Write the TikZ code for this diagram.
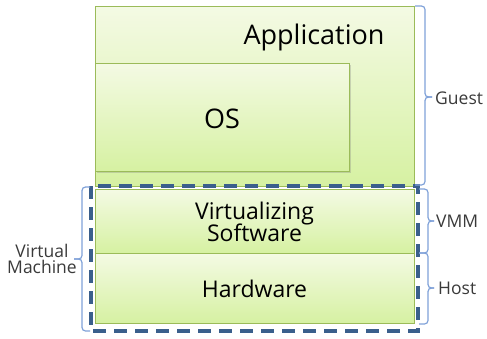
\documentclass[tikz,border=0pt]{standalone}
\usepackage{fontspec}
\setmainfont{Open Sans}
\usetikzlibrary{shadows}
\definecolor{boxedge}{HTML}{9BBB59}
\definecolor{gtop}{HTML}{F4FAE4}
\definecolor{gbot}{HTML}{D6F1A2}
\definecolor{dashblue}{HTML}{3A5F8C}
\definecolor{bracecol}{HTML}{7FA1D8}
\definecolor{labcol}{HTML}{3A3A3A}
\tikzset{
  layer/.style={draw=boxedge, line width=1pt, top color=gtop, bottom color=gbot, inner sep=0pt},
  osbox/.style={layer, drop shadow={shadow xshift=1.5pt, shadow yshift=-2pt, opacity=0.3}},
  bigtext/.style={font=\fontsize{27}{32}\selectfont, text=black},
  midtext/.style={font=\fontsize{23}{27}\selectfont, text=black, align=center},
  bracestyle/.style={draw=bracecol, line width=1.2pt, rounded corners=3.5pt},
  labstyle/.style={font=\fontsize{17.5}{19}\selectfont, text=labcol},
  vmframe/.style={draw=dashblue, line width=3.2pt, dash pattern=on 13pt off 8pt}
}
\begin{document}
\begin{tikzpicture}[x=1pt,y=-1pt]
\useasboundingbox (0,0) rectangle (487,338);
% boxes
\node[layer, minimum width=319pt, minimum height=180pt] (app) at (254.5,96) {};
\node[bigtext, anchor=base] (apptext) at (314,44) {Application};
\node[osbox, minimum width=254pt, minimum height=108pt] (os) at (222,117) {};
\node[bigtext] (ostext) at (222,119) {OS};
\node[layer, minimum width=319pt, minimum height=64pt] (vs) at (254.5,221) {};
\node[midtext] (vstext) at (254.5,222) {Virtualizing\\[-5pt]Software};
\node[layer, minimum width=319pt, minimum height=70pt] (hw) at (254.5,288) {};
\node[midtext] (hwtext) at (254.5,289) {Hardware};
% dashed virtual machine frame
\coordinate (vmtl) at (91,186);
\coordinate (vmbr) at (418,331);
\draw[vmframe] (vmtl) rectangle (vmbr);
% Guest brace
\coordinate (gt) at (432,97);
\draw[bracestyle] (415,6) -- (425,6) -- (425,97) -- (gt);
\draw[bracestyle] (gt) -- (425,97) -- (425,185) -- (415,185);
\node[labstyle, anchor=west, inner sep=1pt] (guest) at (434,98) {Guest};
% VMM brace
\coordinate (vt) at (434,221);
\draw[bracestyle] (419,189) -- (428,189) -- (428,221) -- (vt);
\draw[bracestyle] (vt) -- (428,221) -- (428,253) -- (419,253);
\node[labstyle, anchor=west, inner sep=1pt] (vmm) at (435,221) {VMM};
% Host brace
\coordinate (ht) at (434,288);
\draw[bracestyle] (419,253) -- (428,253) -- (428,288) -- (ht);
\draw[bracestyle] (ht) -- (428,288) -- (428,324) -- (419,324);
\node[labstyle, anchor=west, inner sep=1pt] (host) at (437,288) {Host};
% Virtual Machine brace
\coordinate (mt) at (74,259);
\draw[bracestyle] (90,187) -- (82,187) -- (82,259) -- (mt);
\draw[bracestyle] (mt) -- (82,259) -- (82,331) -- (90,331);
\node[labstyle, anchor=east, align=center, inner sep=1pt] (vm) at (78,259) {Virtual\\[-3pt]Machine};
\end{tikzpicture}
\end{document}
